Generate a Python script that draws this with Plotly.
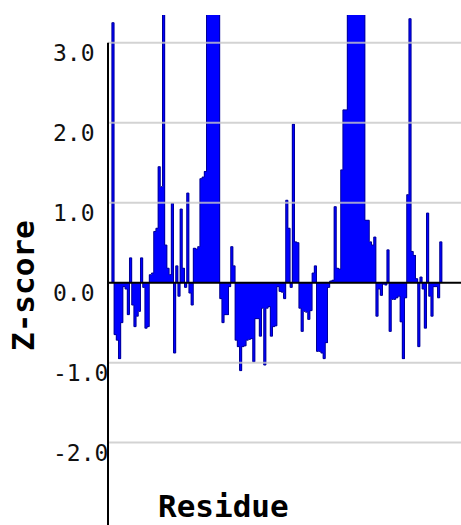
import plotly.graph_objects as go

# Per-residue Z-scores (values above the axis top are clipped by the plot area)
zscores = [
    3.25, -0.65, -0.72, -0.95, -0.50, -0.05, -0.08, -0.40, 0.31, -0.28,
    -0.55, -0.42, -0.36, 0.31, -0.06, -0.57, -0.55, 0.10, 0.12, 0.64,
    0.68, 1.45, 1.20, 4.00, 0.47, 0.18, 0.10, 0.99, -0.88, 0.21,
    -0.17, 0.92, 0.18, -0.06, 1.12, -0.13, -0.28, 0.43, 0.42, 0.45,
    1.30, 1.32, 1.39, 3.90, 4.60, 5.10, 4.80, 4.50, 4.00, -0.20,
    -0.50, -0.40, -0.40, -0.05, 0.45, 0.21, -0.72, -0.80, -1.10, -0.80,
    -0.79, -0.72, -0.71, -0.70, -0.99, -0.45, -0.45, -0.67, -0.32, -1.03,
    -0.32, -0.30, -0.67, -0.55, -0.54, -0.05, -0.11, -0.12, -0.20, 1.03,
    0.68, -0.06, 1.98, 0.51, 0.50, -0.32, -0.61, -0.36, -0.37, -0.46,
    -0.35, 0.12, 0.21, -0.86, -0.86, -0.88, -0.95, -0.75, -0.06, 0.02,
    0.03, 0.95, 0.18, 0.17, 1.41, 2.16, 2.16, 3.80, 4.40, 5.00,
    5.30, 5.10, 4.70, 4.30, 3.90, 0.78, 0.78, 0.51, 0.47, 0.57,
    -0.42, -0.08, -0.16, -0.02, -0.03, 0.41, -0.61, -0.21, -0.21, -0.19,
    -0.17, -0.49, -0.95, -0.19, 1.10, 3.30, 0.39, 0.34, 0.05, -0.80,
    0.07, -0.08, -0.57, 0.87, -0.17, -0.42, -0.05, -0.05, -0.19, 0.51,
]
residues = list(range(1, len(zscores) + 1))

y_ticks = [3.0, 2.0, 1.0, 0.0, -1.0, -2.0]
y_tick_labels = ["3.0", "2.0", "1.0", "0.0", "-1.0", "-2.0"]
y_range = [-3.03, 3.346]
x_range = [-1.27, 159.18]

BLUE = "#0000ff"
EDGE = "#000099"
MONO = "DejaVu Sans Mono"

# Step outline around the filled profile
edges = [r - 0.5 for r in residues]
out_x = [edges[0]] + edges + [residues[-1] + 0.5, residues[-1] + 0.5]
out_y = [0] + zscores + [zscores[-1], 0]

fig = go.Figure()
fig.add_trace(go.Bar(
    x=residues, y=zscores, width=1.0,
    marker=dict(color=BLUE, line=dict(width=0)),
    hoverinfo="x+y", showlegend=False,
))
fig.add_trace(go.Scatter(
    x=out_x, y=out_y, mode="lines",
    line=dict(color=EDGE, width=1, shape="hv"),
    hoverinfo="skip", showlegend=False,
))

shapes = []
# light grid lines drawn over the bars
for t in y_ticks:
    if t != 0:
        shapes.append(dict(type="line", xref="paper", yref="y", x0=0, x1=1, y0=t, y1=t,
                           line=dict(color="rgba(200,200,200,0.8)", width=2), layer="above"))
# zero line
shapes.append(dict(type="line", xref="paper", yref="y", x0=0, x1=1, y0=0, y1=0,
                   line=dict(color="black", width=2), layer="above"))
# vertical axis line from the bottom up to the top tick
shapes.append(dict(type="line", xref="paper", yref="y", x0=0, x1=0,
                   y0=y_range[0], y1=max(y_ticks),
                   line=dict(color="black", width=2), layer="above"))

annotations = []
for t, lab in zip(y_ticks, y_tick_labels):
    annotations.append(dict(
        text=lab, xref="paper", yref="y", x=-0.1615, y=t,
        xanchor="left", yanchor="middle", yshift=-10.5, showarrow=False,
        font=dict(family=MONO, size=23, color="#111111"),
    ))
annotations.append(dict(
    text="<b>Residue</b>", xref="paper", yref="paper", x=0.327, y=0.0,
    xanchor="center", yanchor="bottom", showarrow=False, borderpad=0,
    font=dict(family=MONO, size=31, color="black"),
))
annotations.append(dict(
    text="<b>Z-score</b>", xref="paper", yref="paper", x=-0.2408, y=0.4706,
    xanchor="center", yanchor="middle", textangle=-90, showarrow=False,
    font=dict(family=MONO, size=31, color="black"),
))

fig.update_layout(
    width=461, height=525,
    margin=dict(l=108, r=0, t=15, b=0),
    paper_bgcolor="white", plot_bgcolor="white",
    bargap=0,
    shapes=shapes, annotations=annotations,
    xaxis=dict(range=x_range, visible=False),
    yaxis=dict(range=y_range, showgrid=False, zeroline=False, showticklabels=False,
               showline=False, ticks=""),
)

fig.write_html("out.html")
